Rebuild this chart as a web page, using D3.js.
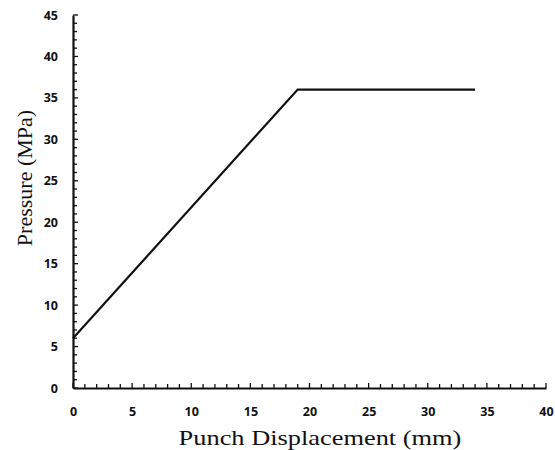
<!DOCTYPE html>
<html>
<head>
<meta charset="utf-8">
<script src="https://cdn.jsdelivr.net/npm/d3@7"></script>
<style>
  body { margin: 0; background: #fff; }
  .tick text { font-family: "Open Sans", sans-serif; font-weight: bold; font-size: 12.5px; fill: #111; }
  .axis-label { font-family: "Liberation Serif", serif; font-size: 22px; fill: #111; }
</style>
</head>
<body>
<svg width="555" height="450"></svg>
<script>
const svg = d3.select("svg");

// curve
const displacement = [0, 19, 34];
const pressure = [6, 36, 36];

const xTicks = [0, 5, 10, 15, 20, 25, 30, 35, 40];
const yTicks = [0, 5, 10, 15, 20, 25, 30, 35, 40, 45];

const margin = { top: 15, right: 9, bottom: 62, left: 73 };
const innerWidth = 555 - margin.left - margin.right;
const innerHeight = 450 - margin.top - margin.bottom;

const xScale = d3.scaleLinear().domain([0, 40]).range([0, innerWidth]);
const yScale = d3.scaleLinear().domain([0, 45]).range([innerHeight, 0]);

const g = svg.append("g").attr("transform", `translate(${margin.left},${margin.top})`);

// minor ticks every 1 unit, pointing inward
const xMinor = d3.range(0, 41);
const yMinor = d3.range(0, 46);

g.append("g")
  .selectAll("line")
  .data(xMinor)
  .enter()
  .append("line")
  .attr("x1", d => xScale(d))
  .attr("x2", d => xScale(d))
  .attr("y1", innerHeight)
  .attr("y2", d => innerHeight - (d % 5 === 0 ? 5 : 4))
  .attr("stroke", "#111")
  .attr("stroke-width", 1.3);

g.append("g")
  .selectAll("line")
  .data(yMinor)
  .enter()
  .append("line")
  .attr("y1", d => yScale(d))
  .attr("y2", d => yScale(d))
  .attr("x1", 0)
  .attr("x2", d => (d % 5 === 0 ? 5 : 4))
  .attr("stroke", "#111")
  .attr("stroke-width", 1.3);

const xAxis = d3.axisBottom(xScale).tickValues(xTicks).tickSize(0).tickPadding(19);
const yAxis = d3.axisLeft(yScale).tickValues(yTicks).tickSize(0).tickPadding(15);

const xAxisG = g.append("g").attr("transform", `translate(0,${innerHeight})`).call(xAxis);
xAxisG.select(".domain").attr("stroke", "#111").attr("stroke-width", 2.2);

const yAxisG = g.append("g").call(yAxis);
yAxisG.select(".domain").attr("stroke", "#111").attr("stroke-width", 2.2);

const line = d3.line()
  .x((d, i) => xScale(displacement[i]))
  .y(d => yScale(d));

g.append("path")
  .datum(pressure)
  .attr("d", line)
  .attr("fill", "none")
  .attr("stroke", "#111")
  .attr("stroke-width", 2.2);

// the x title is drawn a bit wider than normal in the original
svg.append("text")
  .attr("class", "axis-label")
  .attr("transform", "translate(320,445) scale(1.2,1)")
  .attr("text-anchor", "middle")
  .text("Punch Displacement (mm)");

svg.append("text")
  .attr("class", "axis-label")
  .attr("transform", "translate(32,178) rotate(-90)")
  .attr("text-anchor", "middle")
  .text("Pressure (MPa)");
</script>
</body>
</html>
